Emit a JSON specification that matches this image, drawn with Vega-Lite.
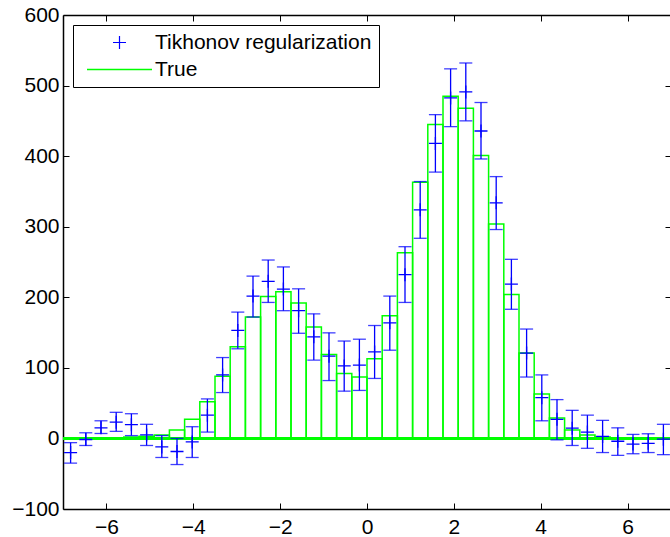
{
  "$schema": "https://vega.github.io/schema/vega-lite/v6.json",
  "width": 608,
  "height": 494,
  "autosize": {"type": "none"},
  "padding": {"left": 63, "top": 15, "right": 0, "bottom": 28},
  "background": "white",
  "config": {
    "view": {"stroke": null},
    "axis": {
      "labelFont": "Liberation Sans",
      "labelFontSize": 21,
      "labelColor": "black",
      "domainColor": "black",
      "domainWidth": 1.5,
      "tickColor": "black",
      "tickWidth": 1,
      "grid": false,
      "title": null
    }
  },
  "datasets": {
    "bins": [
      {"bin_start": -7, "bin_end": -6.65, "center": -6.825, "true_count": 0, "estimate": -20, "lower": -35, "upper": -6},
      {"bin_start": -6.65, "bin_end": -6.3, "center": -6.475, "true_count": 0, "estimate": -1.5, "lower": -10, "upper": 8},
      {"bin_start": -6.3, "bin_end": -5.95, "center": -6.125, "true_count": 0, "estimate": 15, "lower": 7, "upper": 25},
      {"bin_start": -5.95, "bin_end": -5.6, "center": -5.775, "true_count": 1, "estimate": 23, "lower": 10, "upper": 37},
      {"bin_start": -5.6, "bin_end": -5.25, "center": -5.425, "true_count": 2, "estimate": 19.5, "lower": 4, "upper": 35},
      {"bin_start": -5.25, "bin_end": -4.9, "center": -5.075, "true_count": 3, "estimate": 5, "lower": -10, "upper": 20},
      {"bin_start": -4.9, "bin_end": -4.55, "center": -4.725, "true_count": 5, "estimate": -12, "lower": -27, "upper": 4},
      {"bin_start": -4.55, "bin_end": -4.2, "center": -4.375, "true_count": 12, "estimate": -18.5, "lower": -37, "upper": 0},
      {"bin_start": -4.2, "bin_end": -3.85, "center": -4.025, "true_count": 27, "estimate": -5, "lower": -27, "upper": 16.6},
      {"bin_start": -3.85, "bin_end": -3.5, "center": -3.675, "true_count": 52, "estimate": 33, "lower": 9, "upper": 56},
      {"bin_start": -3.5, "bin_end": -3.15, "center": -3.325, "true_count": 88, "estimate": 90, "lower": 65, "upper": 114.6},
      {"bin_start": -3.15, "bin_end": -2.8, "center": -2.975, "true_count": 130, "estimate": 153, "lower": 127, "upper": 179},
      {"bin_start": -2.8, "bin_end": -2.45, "center": -2.625, "true_count": 172, "estimate": 201.7, "lower": 172, "upper": 230},
      {"bin_start": -2.45, "bin_end": -2.1, "center": -2.275, "true_count": 201, "estimate": 222.6, "lower": 192.7, "upper": 252.8},
      {"bin_start": -2.1, "bin_end": -1.75, "center": -1.925, "true_count": 208, "estimate": 211.6, "lower": 181, "upper": 243},
      {"bin_start": -1.75, "bin_end": -1.4, "center": -1.575, "true_count": 192, "estimate": 181, "lower": 149, "upper": 212},
      {"bin_start": -1.4, "bin_end": -1.05, "center": -1.225, "true_count": 158, "estimate": 144, "lower": 111, "upper": 176.6},
      {"bin_start": -1.05, "bin_end": -0.7, "center": -0.875, "true_count": 119, "estimate": 116.5, "lower": 82, "upper": 149.6},
      {"bin_start": -0.7, "bin_end": -0.35, "center": -0.525, "true_count": 92, "estimate": 102.7, "lower": 67, "upper": 138},
      {"bin_start": -0.35, "bin_end": 0, "center": -0.175, "true_count": 87, "estimate": 104, "lower": 68, "upper": 140.6},
      {"bin_start": 0, "bin_end": 0.35, "center": 0.175, "true_count": 113, "estimate": 122.6, "lower": 85, "upper": 160},
      {"bin_start": 0.35, "bin_end": 0.7, "center": 0.525, "true_count": 174, "estimate": 163.8, "lower": 125, "upper": 201.7},
      {"bin_start": 0.7, "bin_end": 1.05, "center": 0.875, "true_count": 263, "estimate": 232, "lower": 192.7, "upper": 271.7},
      {"bin_start": 1.05, "bin_end": 1.4, "center": 1.225, "true_count": 363, "estimate": 323.9, "lower": 283.6, "upper": 364},
      {"bin_start": 1.4, "bin_end": 1.75, "center": 1.575, "true_count": 445, "estimate": 418, "lower": 377.4, "upper": 458.8},
      {"bin_start": 1.75, "bin_end": 2.1, "center": 1.925, "true_count": 485, "estimate": 482.5, "lower": 441.8, "upper": 523.7},
      {"bin_start": 2.1, "bin_end": 2.45, "center": 2.275, "true_count": 468, "estimate": 491, "lower": 450, "upper": 532},
      {"bin_start": 2.45, "bin_end": 2.8, "center": 2.625, "true_count": 401, "estimate": 435.6, "lower": 396, "upper": 476},
      {"bin_start": 2.8, "bin_end": 3.15, "center": 2.975, "true_count": 304, "estimate": 333.8, "lower": 296, "upper": 371},
      {"bin_start": 3.15, "bin_end": 3.5, "center": 3.325, "true_count": 204, "estimate": 218.7, "lower": 183, "upper": 253.8},
      {"bin_start": 3.5, "bin_end": 3.85, "center": 3.675, "true_count": 121, "estimate": 121, "lower": 87, "upper": 155},
      {"bin_start": 3.85, "bin_end": 4.2, "center": 4.025, "true_count": 63, "estimate": 57.8, "lower": 25, "upper": 90},
      {"bin_start": 4.2, "bin_end": 4.55, "center": 4.375, "true_count": 29, "estimate": 27, "lower": -2, "upper": 55},
      {"bin_start": 4.55, "bin_end": 4.9, "center": 4.725, "true_count": 12, "estimate": 14.6, "lower": -10, "upper": 39.8},
      {"bin_start": 4.9, "bin_end": 5.25, "center": 5.075, "true_count": 5, "estimate": 9, "lower": -14, "upper": 33},
      {"bin_start": 5.25, "bin_end": 5.6, "center": 5.425, "true_count": 2, "estimate": 2.8, "lower": -20, "upper": 25.6},
      {"bin_start": 5.6, "bin_end": 5.95, "center": 5.775, "true_count": 1, "estimate": -4, "lower": -24, "upper": 15},
      {"bin_start": 5.95, "bin_end": 6.3, "center": 6.125, "true_count": 0.5, "estimate": -8, "lower": -21.7, "upper": 5.7},
      {"bin_start": 6.3, "bin_end": 6.65, "center": 6.475, "true_count": 0, "estimate": -7, "lower": -20, "upper": 6.6},
      {"bin_start": 6.65, "bin_end": 7, "center": 6.825, "true_count": 0, "estimate": -1, "lower": -23, "upper": 20}
    ]
  },
  "data": {"name": "bins"},
  "layer": [
    {
      "mark": {"type": "rect", "filled": false, "strokeWidth": 1.5},
      "encoding": {
        "x": {"field": "bin_start", "type": "quantitative", "scale": {"domain": [-7, 7]},
              "axis": {"orient": "top", "values": [-6, -4, -2, 0, 2, 4, 6], "labels": false, "tickSize": -6}},
        "x2": {"field": "bin_end"},
        "y": {"field": "true_count", "type": "quantitative", "scale": {"domain": [-100, 600]},
              "axis": {"orient": "right", "values": [-100, 0, 100, 200, 300, 400, 500, 600], "labels": false, "tickSize": -6}},
        "y2": {"datum": 0},
        "color": {"datum": "True", "type": "nominal",
          "scale": {"domain": ["Tikhonov regularization", "True"], "range": ["#0000ff", "#00ff00"]},
          "legend": {
            "orient": "top-left",
            "offset": 10,
            "title": null,
            "fillColor": "white",
            "strokeColor": "black",
            "padding": 7,
            "labelFont": "Liberation Sans",
            "labelFontSize": 21,
            "labelColor": "black",
            "labelLimit": 0,
            "labelOffset": 25,
            "symbolOffset": 29,
            "symbolSize": 169,
            "symbolStrokeWidth": 1.2,
            "rowPadding": 5,
            "encode": {
              "symbols": {
                "update": {
                  "shape": {"signal": "datum.value === 'True' ? 'M-5,0L5,0' : 'M-1,0L1,0M0,-1L0,1'"},
                  "stroke": {"signal": "datum.value === 'True' ? '#00ff00' : '#0000ff'"},
                  "fill": {"value": "transparent"},
                  "strokeWidth": {"signal": "datum.value === 'True' ? 1.5 : 1.2"},
                  "opacity": {"value": 1}
                }
              }
            }
          }
        }
      }
    },
    {
      "mark": {"type": "rule", "color": "#00ff00", "strokeWidth": 1.5},
      "encoding": {
        "x": {"datum": -7, "axis": null},
        "x2": {"datum": 7},
        "y": {"datum": 0, "axis": null}
      }
    },
    {
      "mark": {"type": "rule", "color": "#0000ff", "strokeWidth": 1.3},
      "encoding": {
        "x": {"field": "center", "type": "quantitative", "axis": null},
        "y": {"field": "lower", "type": "quantitative", "axis": null},
        "y2": {"field": "upper"}
      }
    },
    {
      "mark": {"type": "tick", "orient": "horizontal", "color": "#0000ff", "size": 13, "thickness": 1.3, "opacity": 0.75},
      "encoding": {
        "x": {"field": "center", "type": "quantitative", "axis": null},
        "y": {"field": "lower", "type": "quantitative", "axis": null}
      }
    },
    {
      "mark": {"type": "tick", "orient": "horizontal", "color": "#0000ff", "size": 13, "thickness": 1.3, "opacity": 0.75},
      "encoding": {
        "x": {"field": "center", "type": "quantitative", "axis": null},
        "y": {"field": "upper", "type": "quantitative", "axis": null}
      }
    },
    {
      "mark": {"type": "point", "shape": "M-1,0L1,0M0,-1L0,1", "size": 169, "filled": false, "strokeWidth": 1.3, "opacity": 1},
      "encoding": {
        "x": {"field": "center", "type": "quantitative", "scale": {"domain": [-7, 7]},
              "axis": {"orient": "bottom", "values": [-6, -4, -2, 0, 2, 4, 6], "tickSize": -6, "labelPadding": 13}},
        "y": {"field": "estimate", "type": "quantitative", "scale": {"domain": [-100, 600]},
              "axis": {"orient": "left", "values": [-100, 0, 100, 200, 300, 400, 500, 600], "tickSize": -6, "labelPadding": 10}},
        "color": {"datum": "Tikhonov regularization", "type": "nominal"}
      }
    }
  ],
  "resolve": {"scale": {"x": "shared", "y": "shared"}, "axis": {"x": "independent", "y": "independent"}}
}
